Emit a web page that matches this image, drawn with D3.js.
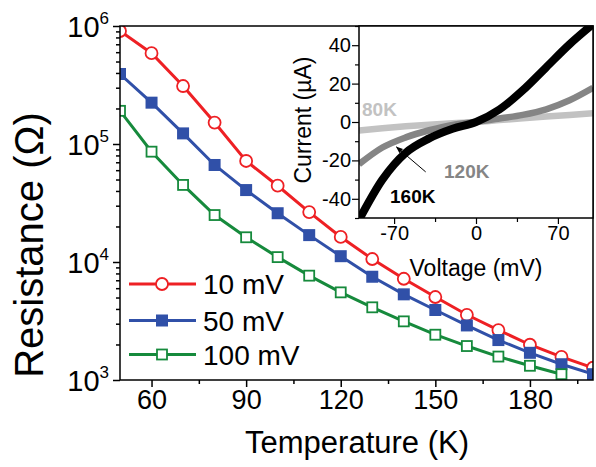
<!DOCTYPE html>
<html>
<head>
<meta charset="utf-8">
<script src="https://cdn.jsdelivr.net/npm/d3@7"></script>
<style>
  body { margin: 0; background: #fff; }
  svg { font-family: "Liberation Sans", Arial, sans-serif; }
</style>
</head>
<body>
<svg width="596" height="467"></svg>
<script>
// main plot: resistance vs temperature
const temps = [50, 60, 70, 80, 90, 100, 110, 120, 130, 140, 150, 160, 170, 180, 190, 200];
const r10mV = [9.07e5, 5.88e5, 3.10e5, 1.52e5, 7.18e4, 4.43e4, 2.65e4, 1.63e4, 1.06e4, 7.21e3, 5.05e3, 3.57e3, 2.65e3, 1.99e3, 1.57e3, 1.27e3];
const r50mV = [3.92e5, 2.24e5, 1.23e5, 6.64e4, 4.07e4, 2.59e4, 1.69e4, 1.12e4, 7.50e3, 5.32e3, 3.92e3, 2.90e3, 2.18e3, 1.70e3, 1.36e3, 1.12e3];
const r100mV = [1.91e5, 8.61e4, 4.50e4, 2.50e4, 1.62e4, 1.10e4, 7.66e3, 5.53e3, 4.13e3, 3.14e3, 2.42e3, 1.94e3, 1.58e3, 1.32e3, 1.12e3];
const seriesNames = ["10 mV", "50 mV", "100 mV"];
const xTicks = [60, 90, 120, 150, 180];
const xMinor = [75, 105, 135, 165, 195];
const yTicks = [1e3, 1e4, 1e5, 1e6];

// inset: I-V curves
const volts = [-100, -80, -60, -40, -20, 0, 20, 40, 60, 80, 100];
const i80K = [-4.4, -3.2, -2.2, -1.4, -0.6, 0, 1.0, 2.0, 2.9, 3.6, 4.5];
const i120K = [-22, -13.3, -8, -4.3, -1.5, 0, 1.8, 3.7, 6.6, 11.3, 17.8];
const i160K = [-51, -30, -16, -8.5, -3.5, 0, 6.5, 16.5, 28.5, 40.5, 51];
const insetXTicks = [-70, 0, 70];
const insetXMinor = [-35, 35];
const insetYTicks = [-40, -20, 0, 20, 40];
const insetYMinor = [-50, -30, -10, 10, 30, 50];

const svg = d3.select("svg");

const x = d3.scaleLinear().domain([50, 200]).range([120, 593]);
const y = d3.scaleLog().domain([1e3, 1e6]).range([380, 26]);

svg.append("clipPath").attr("id", "mainclip")
  .append("rect").attr("x", 120).attr("y", 26).attr("width", 473).attr("height", 354);

const series = [
  { name: seriesNames[0], vals: r10mV, color: "#ee2024", shape: "circle", fill: "#fff" },
  { name: seriesNames[1], vals: r50mV, color: "#3050a8", shape: "square", fill: "#3050a8" },
  { name: seriesNames[2], vals: r100mV, color: "#168a3c", shape: "square", fill: "#fff" }
];

const plot = svg.append("g").attr("clip-path", "url(#mainclip)");
const line = d3.line().x(d => x(d[0])).y(d => y(d[1]));

function marker(g, s, cx, cy) {
  if (s.shape === "circle") {
    g.append("circle").attr("cx", cx).attr("cy", cy).attr("r", 6)
      .attr("fill", s.fill).attr("stroke", s.color).attr("stroke-width", 1.8);
  } else {
    const h = s.fill === "#fff" ? 5 : 6;
    g.append("rect").attr("x", cx - h).attr("y", cy - h).attr("width", 2 * h).attr("height", 2 * h)
      .attr("fill", s.fill).attr("stroke", s.color).attr("stroke-width", s.fill === "#fff" ? 1.8 : 0);
  }
}

series.forEach(s => {
  const pts = s.vals.map((v, i) => [temps[i], v]);
  plot.append("path").attr("d", line(pts)).attr("fill", "none")
    .attr("stroke", s.color).attr("stroke-width", 3);
  pts.forEach(p => marker(plot, s, x(p[0]), y(p[1])));
});

// frame + axes
svg.append("rect").attr("x", 120).attr("y", 26).attr("width", 473).attr("height", 354)
  .attr("fill", "none").attr("stroke", "#000").attr("stroke-width", 1.5);

const xa = svg.append("g").attr("transform", "translate(0,380)")
  .call(d3.axisBottom(x).tickValues(xTicks).tickSize(7).tickPadding(3).tickFormat(d3.format("d")));
xa.append("g").call(d3.axisBottom(x).tickValues(xMinor).tickSize(4).tickFormat(""));
xa.selectAll(".domain").remove();
xa.selectAll("text").attr("font-size", 27).attr("fill", "#000").attr("font-family", null);
xa.selectAll("line").attr("stroke-width", 1.5);

const minorY = [];
[1e3, 1e4, 1e5].forEach(d => { for (let k = 2; k <= 9; k++) minorY.push(d * k); });
const ya = svg.append("g").attr("transform", "translate(120,0)")
  .call(d3.axisLeft(y).tickValues(yTicks).tickSize(7).tickFormat(""));
ya.append("g").call(d3.axisLeft(y).tickValues(minorY).tickSize(4).tickFormat(""));
ya.selectAll(".domain").remove();
ya.selectAll("line").attr("stroke-width", 1.5);

yTicks.forEach(t => {
  const tx = svg.append("text").attr("x", 109).attr("y", y(t) + 11)
    .attr("text-anchor", "end").attr("font-size", 29);
  tx.append("tspan").text("10");
  tx.append("tspan").attr("font-size", 17).attr("dy", -13).text(Math.round(Math.log10(t)));
});

svg.append("text").attr("x", 357).attr("y", 453).attr("text-anchor", "middle")
  .attr("font-size", 31).text("Temperature (K)");
svg.append("text").attr("transform", "translate(43,245) rotate(-90)").attr("text-anchor", "middle")
  .attr("font-size", 40).text("Resistance (\u03A9)");

// legend
const legY = [284, 320.5, 354.5];
series.forEach((s, i) => {
  const g = svg.append("g");
  g.append("line").attr("x1", 129).attr("x2", 196).attr("y1", legY[i]).attr("y2", legY[i])
    .attr("stroke", s.color).attr("stroke-width", 3);
  marker(g, s, 162, legY[i]);
  g.append("text").attr("x", 203).attr("y", legY[i] + 10).attr("font-size", 28).text(s.name);
});

// inset
const ix = d3.scaleLinear().domain([-100, 100]).range([359, 593]);
const iy = d3.scaleLinear().domain([-50, 50]).range([218, 26]);

svg.append("rect").attr("x", 359).attr("y", 26).attr("width", 234).attr("height", 192).attr("fill", "#fff");
svg.append("clipPath").attr("id", "insetclip")
  .append("rect").attr("x", 359).attr("y", 26).attr("width", 234).attr("height", 192);

const ivLine = d3.line().x(d => ix(d[0])).y(d => iy(d[1])).curve(d3.curveMonotoneX);
const ivSets = [
  { vals: i80K, color: "#c2c2c2", w: 6.5 },
  { vals: i120K, color: "#858585", w: 6.5 },
  { vals: i160K, color: "#000", w: 8 }
];
const ig = svg.append("g").attr("clip-path", "url(#insetclip)");
ivSets.forEach(s => {
  ig.append("path").attr("d", ivLine(s.vals.map((v, i) => [volts[i], v])))
    .attr("fill", "none").attr("stroke", s.color).attr("stroke-width", s.w);
});

svg.append("rect").attr("x", 359).attr("y", 26).attr("width", 234).attr("height", 192)
  .attr("fill", "none").attr("stroke", "#000").attr("stroke-width", 1.5);

const fmtMinus = d => d < 0 ? "-" + Math.abs(d) : String(d);
const ixa = svg.append("g").attr("transform", "translate(0,218)")
  .call(d3.axisBottom(ix).tickValues(insetXTicks).tickSize(6).tickPadding(2).tickFormat(fmtMinus));
ixa.append("g").call(d3.axisBottom(ix).tickValues(insetXMinor).tickSize(4).tickFormat(""));
const iya = svg.append("g").attr("transform", "translate(359,0)")
  .call(d3.axisLeft(iy).tickValues(insetYTicks).tickSize(7).tickPadding(1).tickFormat(fmtMinus));
iya.append("g").call(d3.axisLeft(iy).tickValues(insetYMinor).tickSize(4).tickFormat(""));
[ixa, iya].forEach(a => {
  a.selectAll(".domain").remove();
  a.selectAll("text").attr("font-size", 20).attr("fill", "#000").attr("font-family", null);
  a.selectAll("line").attr("stroke-width", 1.2);
});

svg.append("text").attr("x", 476).attr("y", 276).attr("text-anchor", "middle")
  .attr("font-size", 23).text("Voltage (mV)");
svg.append("text").attr("transform", "translate(311,120) rotate(-90)").attr("text-anchor", "middle")
  .attr("font-size", 23).text("Current (\u00B5A)");

svg.append("text").attr("x", 362).attr("y", 116).attr("font-size", 19).attr("font-weight", "bold")
  .attr("fill", "#c2c2c2").text("80K");
svg.append("text").attr("x", 444).attr("y", 178).attr("font-size", 19).attr("font-weight", "bold")
  .attr("fill", "#858585").text("120K");
svg.append("text").attr("x", 390).attr("y", 203).attr("font-size", 19).attr("font-weight", "bold")
  .attr("fill", "#000").text("160K");

svg.append("defs").append("marker").attr("id", "arr").attr("viewBox", "0 0 10 10")
  .attr("refX", 9).attr("refY", 5).attr("markerWidth", 7).attr("markerHeight", 7).attr("orient", "auto")
  .append("path").attr("d", "M0,1L10,5L0,9Z").attr("fill", "#000");
svg.append("line").attr("x1", ix(-43)).attr("y1", iy(-26)).attr("x2", ix(-68)).attr("y2", iy(-13))
  .attr("stroke", "#000").attr("stroke-width", 1).attr("marker-end", "url(#arr)");
</script>
</body>
</html>
